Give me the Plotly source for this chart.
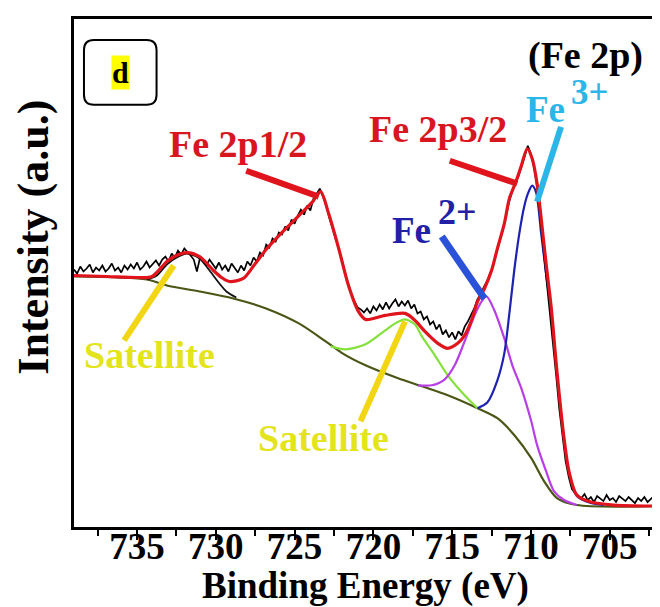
import numpy as np
import plotly.graph_objects as go

# ---------------- data (binding energy in eV, intensity in a.u.) ----------------
raw_energy = np.round(np.arange(739.0, 701.9, -0.2), 1)
raw_counts = [
    258, 254, 261, 256, 259, 263, 255, 260, 257, 262,   # 739.0 .. 737.2
    256, 259, 264, 257, 260, 255, 262, 258, 263, 259,   # 737.0 .. 735.2
    265, 258, 261, 266, 260, 264, 267, 262, 268, 271,   # 735.0 .. 733.2
    266, 274, 270, 277, 273, 279, 276, 272, 268, 256,   # 733.0 .. 731.2
    270, 266, 262, 268, 263, 259, 265, 258, 262, 256,   # 731.0 .. 729.2
    264, 259, 255, 262, 257, 266, 262, 270, 266, 275,   # 729.0 .. 727.2
    272, 283, 280, 289, 286, 295, 293, 301, 297, 308,   # 727.0 .. 725.2
    304, 312, 318, 313, 322, 317, 329, 334, 339, 331,   # 725.0 .. 723.2
    323, 310, 299, 288, 279, 268, 254, 243, 234, 226,   # 723.0 .. 721.2
    220, 218, 215, 219, 214, 221, 217, 223, 218, 225,   # 721.0 .. 719.2
    219, 224, 228, 221, 226, 222, 227, 219, 223, 214,   # 719.0 .. 717.2
    216, 208, 211, 203, 206, 198, 203, 193, 197, 190,   # 717.0 .. 715.2
    195, 188, 196, 192, 201, 206, 212, 219, 228, 233,   # 715.0 .. 713.2
    240, 246, 254, 262, 274, 285, 297, 310, 325, 336,   # 713.0 .. 711.2
    345, 351, 360, 371, 382, 374, 360, 340, 308, 278,   # 711.0 .. 709.2
    248, 215, 188, 152, 118, 90, 66, 50, 38, 34,        # 709.0 .. 707.2
    31, 29, 33, 27, 30, 25, 31, 28, 26, 32,             # 707.0 .. 705.2
    27, 29, 25, 31, 28, 26, 30, 27, 24, 29,             # 705.0 .. 703.2
    26, 30, 25, 28, 31, 27,                             # 703.0 .. 702.0
]

env_energy = [739.0, 736.9, 735.0, 734.05, 733.1, 732.5, 731.85, 731.03, 730.15, 729.64,
              729.14, 728.26, 727.63, 726.81, 725.99, 725.36, 724.73, 723.85, 723.35, 722.84,
              722.2, 721.58, 720.95, 720.5, 719.25, 717.99, 717.36, 716.73, 715.91, 715.28,
              714.65, 714.21, 713.77, 713.39, 712.95, 712.5, 712.13, 711.69, 711.37, 710.93,
              710.61, 710.24, 709.92, 709.61, 709.35, 709.04, 708.72, 708.35, 707.9, 707.59,
              707.09, 706.2, 704.75, 702.0]
env_counts = [252, 251, 250, 251, 266, 272, 275, 271, 257, 250,
              246, 249, 261, 278, 292, 302, 312, 326, 336, 314,
              279, 242, 216, 208, 212, 214, 207, 196, 184, 179,
              184, 192, 207, 226, 239, 257, 279, 304, 329, 347,
              362, 379, 369, 344, 309, 264, 221, 156, 89, 56,
              32, 25, 22, 21]

bg_energy = [739.0, 734.37, 733.1, 731.03, 728.89, 726.81, 724.73, 723.03, 721.96, 720.5,
             718.43, 716.92, 715.28, 713.39, 712.13, 711.05, 709.98, 709.17, 708.35, 707.09, 702.0]
bg_counts = [251, 248, 242, 236, 229, 219, 204, 186, 174, 162,
             149, 141, 132, 119, 109, 92, 69, 46, 29, 22, 21]

sat1_energy = [734.37, 733.74, 733.11, 732.48, 731.85, 731.03, 730.4, 729.77, 729.33, 728.7]
sat1_counts = [248, 252, 263, 270, 274, 269, 257, 244, 236, 230]

sat2_energy = [722.71, 721.77, 720.5, 719.25, 718.62, 717.99, 717.36, 716.92, 716.1, 715.28,
               714.21, 713.39]
sat2_counts = [181, 178, 183, 197, 204, 208, 203, 191, 172, 152, 132, 119]

fe2_energy = [717.17, 716.29, 715.47, 714.84, 714.21, 713.58, 713.13, 712.82, 712.32, 711.69,
              711.18, 710.61, 709.98, 709.61, 709.04, 708.54, 707.9, 707.09]
fe2_counts = [142, 142, 148, 162, 186, 212, 226, 231, 217, 189,
              162, 139, 106, 82, 56, 36, 27, 22]

fe3_energy = [713.39, 712.76, 712.13, 711.69, 711.37, 711.06, 710.74, 710.43, 710.17, 709.92,
              709.67, 709.35, 709.04, 708.72, 708.35, 707.9, 707.59, 707.09, 706.2, 705.38]
fe3_counts = [119, 125, 147, 174, 214, 257, 294, 321, 335, 342,
              335, 294, 254, 216, 153, 87, 54, 31, 24, 22]

x_ticks = [735, 730, 725, 720, 715, 710, 705]

# ---------------- figure ----------------
FONT = "Liberation Serif"
fig = go.Figure()

def add_line(x, y, color, width, shape="spline"):
    fig.add_trace(go.Scatter(x=x, y=y, mode="lines",
                             line=dict(color=color, width=width, shape=shape, smoothing=0.8),
                             hoverinfo="skip", showlegend=False))

add_line(bg_energy, bg_counts, "#4a5616", 2.2)
add_line(sat2_energy, sat2_counts, "#84e03a", 2.2)
add_line(fe2_energy, fe2_counts, "#b83ee6", 2.2)
add_line(fe3_energy, fe3_counts, "#1e22b0", 2.2)
add_line(sat1_energy, sat1_counts, "#111111", 1.8)
add_line(list(raw_energy), raw_counts, "#000000", 1.7, shape="linear")
add_line(env_energy, env_counts, "#e0141c", 3.2)

# pointer lines
def pointer(x0, y0, x1, y1, color, width):
    fig.add_shape(type="line", x0=x0, y0=y0, x1=x1, y1=y1, xref="x", yref="y",
                  line=dict(color=color, width=width))

pointer(728.07, 357, 723.47, 331, "#e0141c", 6)
pointer(715.15, 367, 710.87, 344, "#e0141c", 6)
pointer(708.09, 401, 709.61, 326, "#2cb6e8", 6)
pointer(715.66, 291, 712.95, 229, "#2a52d8", 7)
pointer(735.82, 187, 732.67, 262, "#f2d614", 6)
pointer(720.82, 106, 717.99, 206, "#f2d614", 6)

def label(x, y, text, color, size, xref="x", yref="y", **kw):
    fig.add_annotation(x=x, y=y, xref=xref, yref=yref, text=text, showarrow=False,
                       xanchor="center", yanchor="middle",
                       font=dict(family=FONT, size=size, color=color, weight="bold"), **kw)

label(728.57, 384, "Fe 2p1/2", "#d8161e", 38)
label(715.91, 399, "Fe 2p3/2", "#d8161e", 38)
label(706.52, 472, "(Fe 2p)", "#000000", 38)
label(709.1, 418, "Fe", "#2cb6e8", 37)
label(706.27, 435, "3+", "#2cb6e8", 35)
label(717.61, 297, "Fe", "#2020a8", 37)
label(714.65, 316, "2+", "#2020a8", 36)
label(734.24, 172, "Satellite", "#e4e41c", 38)
label(723.15, 89, "Satellite", "#e4e41c", 38)

# axis titles placed as in the reference
label(-0.070, 0.570, "Intensity (a.u.)", "#000000", 44, xref="paper", yref="paper",
      textangle=-90)
label(0.5, -0.117, "Binding Energy (eV)", "#000000", 37, xref="paper", yref="paper")

# rounded box with "d"
x0, x1, y0, y1 = 0.0171, 0.1416, 0.831, 0.9587
rx, ry = 0.017, 0.0197
path = (f"M {x0+rx},{y1} L {x1-rx},{y1} Q {x1},{y1} {x1},{y1-ry} "
        f"L {x1},{y0+ry} Q {x1},{y0} {x1-rx},{y0} L {x0+rx},{y0} Q {x0},{y0} {x0},{y0+ry} "
        f"L {x0},{y1-ry} Q {x0},{y1} {x0+rx},{y1} Z")
fig.add_shape(type="path", path=path, xref="paper", yref="paper",
              line=dict(color="black", width=2), fillcolor="rgba(0,0,0,0)")
label(0.0802, 0.895, "d", "#000000", 30, xref="paper", yref="paper",
      bgcolor="#ffff00", borderpad=0)

fig.update_layout(
    width=660, height=607,
    margin=dict(l=66, r=8, t=10, b=88),
    paper_bgcolor="white", plot_bgcolor="white",
    font=dict(family=FONT, color="black"),
    xaxis=dict(
        range=[739, 702], tickvals=x_ticks, ticks="outside", ticklen=10, tickwidth=2,
        tickcolor="black", showgrid=False, zeroline=False,
        showline=True, linewidth=3, linecolor="black", mirror=True,
        ticklabelstandoff=-25,
        tickfont=dict(family=FONT, size=37, color="black", weight="bold"),
        minor=dict(dtick=2.5, tick0=735, ticks="outside", ticklen=6, tickwidth=2,
                   tickcolor="black", showgrid=False),
    ),
    yaxis=dict(
        range=[0, 509], showticklabels=False, ticks="", showgrid=False, zeroline=False,
        showline=True, linewidth=3, linecolor="black", mirror=True,
    ),
)

fig.write_html("out.html")
